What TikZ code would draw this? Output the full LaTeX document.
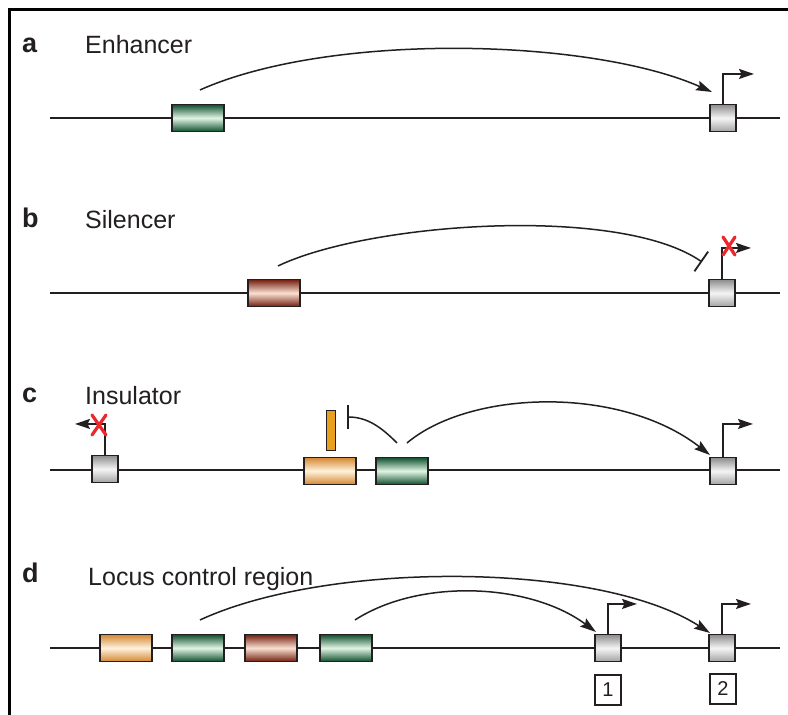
\documentclass[tikz,border=0pt]{standalone}
\usepackage{fontspec}
\setmainfont{Liberation Sans}
\usetikzlibrary{arrows.meta,calc}

\definecolor{ink}{RGB}{35,31,32}
\definecolor{grnD}{RGB}{15,80,45}
\definecolor{grnL}{RGB}{225,245,228}
\definecolor{redD}{RGB}{115,30,15}
\definecolor{redL}{RGB}{250,225,210}
\definecolor{orgD}{RGB}{212,135,50}
\definecolor{orgL}{RGB}{255,242,220}
\definecolor{gryD}{RGB}{140,140,140}
\definecolor{gryL}{RGB}{245,245,245}
\definecolor{barO}{RGB}{232,160,30}
\definecolor{xred}{RGB}{235,40,45}

\tikzset{
  dna/.style={draw=ink, line width=1.4pt},
  elem/.style={draw=ink, line width=1.1pt, rectangle, inner sep=0pt,
               minimum width=52pt, minimum height=27pt},
  enh/.style={elem, top color=grnD, bottom color=grnD, middle color=grnL},
  sil/.style={elem, top color=redD, bottom color=redD, middle color=redL},
  ins/.style={elem, top color=orgD, bottom color=orgD, middle color=orgL},
  prom/.style={elem, minimum width=26pt, top color=gryD, bottom color=gryD!80, middle color=gryL},
  tss/.style={draw=ink, line width=1.5pt, -{Stealth[length=15pt,width=10pt,inset=2.5pt]}},
  link/.style={draw=ink, line width=1.5pt, -{Stealth[length=16pt,width=10pt,inset=2.5pt]}},
  block/.style={draw=ink, line width=1.5pt, -{Bar[width=24pt,line width=1.8pt]}},
  panel/.style={font=\bfseries\fontsize{27}{30}\selectfont, text=ink, anchor=base west, inner sep=0pt},
  title/.style={font=\fontsize{25}{30}\selectfont, text=ink, anchor=base west, inner sep=0pt},
  tag/.style={draw=ink, line width=1.3pt, minimum width=26pt, minimum height=30pt, inner sep=0pt,
              font=\fontsize{20}{24}\selectfont, text=ink},
  nogo/.style={draw=xred, line width=3.2pt, line cap=round},
}

\begin{document}
\begin{tikzpicture}[x=1pt,y=-1pt]
\useasboundingbox (0,0) rectangle (788,715);
\fill[white] (0,0) rectangle (788,715);

% frame (open at right and bottom)
\coordinate (f-bl) at (9,715);
\coordinate (f-tl) at (9,9);
\coordinate (f-tr) at (788,9);
\draw[line width=3pt, black] (f-bl) -- (f-tl) -- (f-tr);

% ---------------- a: enhancer ----------------
\node[panel] (la) at (22,52) {a};
\node[title] (ta) at (85,53) {Enhancer};
\coordinate (a-l) at (50,118);
\coordinate (a-r) at (780,118);
\draw[dna] (a-l) -- (a-r);
\node[enh] (a-enh) at (198,118) {};
\node[prom] (a-p) at (723,118) {};
\draw[tss] (a-p.north) -- ++(0,-30) -- ++(31,0);
\coordinate (a-s) at ($(a-enh.north)+(2,-14)$);
\coordinate (a-e) at (712,92);
\draw[link] (a-s) .. controls (330,32) and (590,38) .. (a-e);

% ---------------- b: silencer ----------------
\node[panel] (lb) at (22,227) {b};
\node[title] (tb) at (85,228) {Silencer};
\coordinate (b-l) at (50,293);
\coordinate (b-r) at (780,293);
\draw[dna] (b-l) -- (b-r);
\node[sil] (b-sil) at (274,293) {};
\node[prom] (b-p) at (722,293) {};
\draw[tss] (b-p.north) -- ++(0,-31) -- ++(29,0);
\coordinate (b-x) at (729,246);
\draw[nogo] ($(b-x)+(-6,-9)$) -- ($(b-x)+(6,9)$);
\draw[nogo] ($(b-x)+(6,-9)$) -- ($(b-x)+(-6,9)$);
\coordinate (b-s) at ($(b-sil.north)+(4,-13)$);
\coordinate (b-e) at (702,262);
\draw[block] (b-s) .. controls (370,222) and (620,205) .. (b-e);

% ---------------- c: insulator ----------------
\node[panel] (lc) at (22,402) {c};
\node[title] (tc) at (85,404) {Insulator};
\coordinate (c-l) at (50,470);
\coordinate (c-r) at (780,470);
\draw[dna] (c-l) -- (c-r);
\node[prom] (c-p0) at (105,469) {};
\draw[tss] (c-p0.north) -- ++(0,-31) -- ++(-30,0);
\coordinate (c-x) at (99,425);
\draw[nogo] ($(c-x)+(-7,-10)$) -- ($(c-x)+(7,10)$);
\draw[nogo] ($(c-x)+(7,-10)$) -- ($(c-x)+(-7,10)$);
\node[ins] (c-ins) at (330,471) {};
\node[draw=ink, line width=1pt, fill=barO, minimum width=9pt, minimum height=40pt, inner sep=0pt]
  (c-bar) at (331,430) {};
\node[enh] (c-enh) at (402,471) {};
\node[prom] (c-p) at (723,471) {};
\draw[tss] (c-p.north) -- ++(0,-33) -- ++(30,0);
\coordinate (c-s1) at ($(c-enh.north)+(-5,-14)$);
\coordinate (c-e1) at (347,417);
\draw[block] (c-s1) .. controls (382,428) and (368,417) .. (c-e1);
\coordinate (c-s2) at ($(c-enh.north)+(5,-14)$);
\coordinate (c-e2) at (710,455);
\draw[link] (c-s2) .. controls (470,390) and (620,385) .. (c-e2);

% ---------------- d: locus control region ----------------
\node[panel] (ld) at (22,582) {d};
\node[title] (td) at (88,585) {Locus control region};
\coordinate (d-l) at (50,648);
\coordinate (d-r) at (780,648);
\draw[dna] (d-l) -- (d-r);
\node[ins] (d-ins) at (126,648) {};
\node[enh] (d-enh1) at (198,648) {};
\node[sil] (d-sil) at (271,648) {};
\node[enh] (d-enh2) at (346,648) {};
\node[prom] (d-p1) at (608,648) {};
\node[prom] (d-p2) at (722,648) {};
\draw[tss] (d-p1.north) -- ++(0,-30) -- ++(29,0);
\draw[tss] (d-p2.north) -- ++(0,-30) -- ++(29,0);
\node[tag] (d-t1) at (608,690) {1};
\node[tag] (d-t2) at (723,689) {2};
\coordinate (d-s1) at ($(d-enh1.north)+(2,-14)$);
\coordinate (d-e1) at (710,633);
\draw[link] (d-s1) .. controls (330,560) and (600,562) .. (d-e1);
\coordinate (d-s2) at ($(d-enh2.north)+(9,-14)$);
\coordinate (d-e2) at (596,632);
\draw[link] (d-s2) .. controls (420,578) and (530,583) .. (d-e2);
\end{tikzpicture}
\end{document}
